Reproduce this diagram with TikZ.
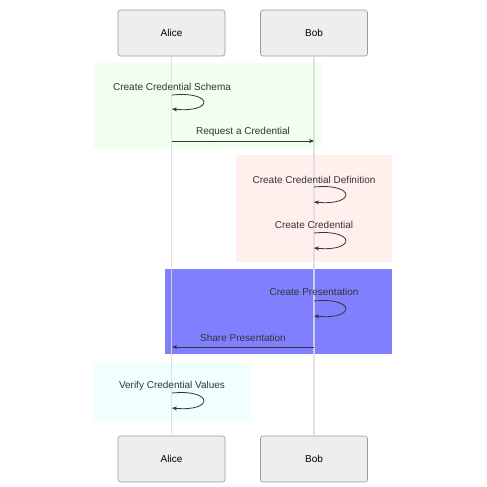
\documentclass[tikz,border=0pt]{standalone}
\usepackage{fontspec}
\setmainfont{Liberation Sans}
\usetikzlibrary{arrows.meta}
\definecolor{boxfill}{HTML}{EEEEEE}
\definecolor{boxline}{HTML}{999999}
\definecolor{life}{HTML}{DDDDDD}
\definecolor{ink}{HTML}{333333}
\definecolor{gfill}{HTML}{F0FFF0}
\definecolor{pfill}{HTML}{FFF0EE}
\definecolor{bfill}{HTML}{8080FF}
\definecolor{cfill}{HTML}{F0FFFF}
\tikzset{
  actor/.style={draw=boxline, fill=boxfill, rounded corners=2.5pt, line width=0.6pt, minimum width=107pt, minimum height=46pt, inner sep=0pt, font=\fontsize{10}{12}\selectfont, text=black},
  lifeline/.style={draw=life, line width=1.1pt, opacity=0.85},
  msg/.style={draw=ink, line width=0.8pt, -{Stealth[length=5pt,width=4pt]}},
  lbl/.style={font=\fontsize{10}{12}\selectfont, text=ink, inner sep=0pt},
}
\begin{document}
\begin{tikzpicture}[x=1pt,y=-1pt]
\useasboundingbox (0,0) rectangle (487,487);
\fill[white] (0,0) rectangle (487,487);
% background rects
\fill[gfill] (94,63) rectangle (321,148);
\fill[pfill] (236,155) rectangle (392,262);
\fill[bfill] (165,269) rectangle (392,354);
\fill[cfill] (94,362) rectangle (250,422);
% actors
\node[actor] (at) at (171.5,33) {Alice};
\node[actor] (bt) at (314,33) {Bob};
\node[actor] (ab) at (171.5,459) {Alice};
\node[actor] (bb) at (314,459) {Bob};
\draw[lifeline] (at.south) -- (ab.north);
\draw[lifeline] (bt.south) -- (bb.north);
% coordinates on lifelines
\coordinate (a1s) at (172,95);  \coordinate (a1e) at (172,109);
\coordinate (a2s) at (172,141); \coordinate (b2e) at (314,141);
\coordinate (b3s) at (314,187); \coordinate (b3e) at (314,202);
\coordinate (b4s) at (314,233); \coordinate (b4e) at (314,248);
\coordinate (b5s) at (314,301); \coordinate (b5e) at (314,316);
\coordinate (b6s) at (314,347); \coordinate (a6e) at (172,347);
\coordinate (a7s) at (172,393); \coordinate (a7e) at (172,408);
% messages
\node[lbl] (t1) at (172,87) {Create Credential Schema};
\draw[msg] (a1s) .. controls +(42,-4) and +(42,4) .. (a1e);
\node[lbl] (t2) at (243,132) {Request a Credential};
\draw[msg] (a2s) -- (b2e);
\node[lbl] (t3) at (314,180) {Create Credential Definition};
\draw[msg] (b3s) .. controls +(42,-4) and +(42,4) .. (b3e);
\node[lbl] (t4) at (314,225) {Create Credential};
\draw[msg] (b4s) .. controls +(42,-4) and +(42,4) .. (b4e);
\node[lbl] (t5) at (314,292) {Create Presentation};
\draw[msg] (b5s) .. controls +(42,-4) and +(42,4) .. (b5e);
\node[lbl] (t6) at (243,338) {Share Presentation};
\draw[msg] (b6s) -- (a6e);
\node[lbl] (t7) at (172,386) {Verify Credential Values};
\draw[msg] (a7s) .. controls +(42,-4) and +(42,4) .. (a7e);
\end{tikzpicture}
\end{document}
